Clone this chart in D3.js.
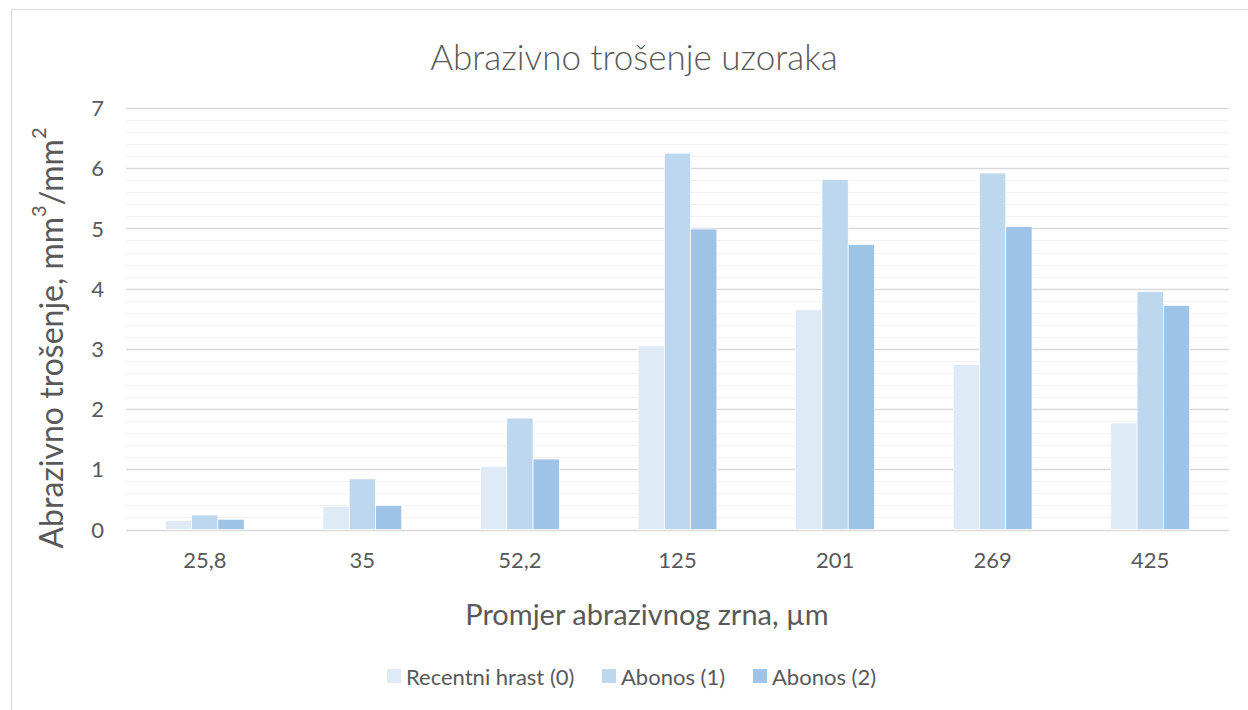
<!DOCTYPE html>
<html>
<head>
<meta charset="utf-8">
<script src="https://cdn.jsdelivr.net/npm/d3@7"></script>
<style>
	body { margin: 0; background: #fff; }
	svg text { font-family: Lato, "Open Sans", sans-serif; fill: #595959; }
</style>
</head>
<body>
<div id="chart"></div>
<script>
const categories = ["25,8", "35", "52,2", "125", "201", "269", "425"];
const seriesNames = ["Recentni hrast (0)", "Abonos (1)", "Abonos (2)"];
const recentniHrast = [0.15, 0.38, 1.05, 3.05, 3.65, 2.74, 1.77];
const abonos1 = [0.24, 0.84, 1.85, 6.25, 5.81, 5.92, 3.95];
const abonos2 = [0.17, 0.40, 1.17, 4.99, 4.73, 5.03, 3.72];
const yTicks = [0, 1, 2, 3, 4, 5, 6, 7];

const width = 1248;
const height = 710;
const colors = ["#deeaf6", "#bdd7ee", "#9dc3e6"];
const series = [recentniHrast, abonos1, abonos2];

let svg = d3.select('#chart').append('svg')
	.attr('width', width)
	.attr('height', height);

// chart area border (cropped on the right and bottom)
svg.append('rect')
	.attr('x', 11.5)
	.attr('y', 9.5)
	.attr('width', width + 20)
	.attr('height', height + 20)
	.attr('fill', '#fff')
	.attr('stroke', '#d9d9d9')
	.attr('stroke-width', 1);

let plot = { left: 126, right: 1229, top: 108, bottom: 529.5 };

let x = d3.scaleBand()
	.domain(categories)
	.range([plot.left, plot.right])
	.paddingInner(0.5)
	.paddingOuter(0.25);

let xs = d3.scaleBand()
	.domain(d3.range(series.length))
	.range([0, x.bandwidth()]);

let y = d3.scaleLinear()
	.domain([0, 7])
	.range([plot.bottom, plot.top]);

// minor gridlines
svg.append('g')
	.selectAll('line')
	.data(d3.range(0, 35).map(i => i / 5).filter(v => v % 1 !== 0))
	.enter()
	.append('line')
	.attr('x1', plot.left)
	.attr('x2', plot.right)
	.attr('y1', d => Math.round(y(d)) + 0.5)
	.attr('y2', d => Math.round(y(d)) + 0.5)
	.attr('stroke', '#f2f2f2')
	.attr('stroke-width', 1.2);

// major gridlines
svg.append('g')
	.selectAll('line')
	.data(yTicks)
	.enter()
	.append('line')
	.attr('x1', plot.left)
	.attr('x2', plot.right)
	.attr('y1', d => Math.round(y(d)) + 0.5)
	.attr('y2', d => Math.round(y(d)) + 0.5)
	.attr('stroke', '#d9d9d9')
	.attr('stroke-width', 1.3);

// bars
let groups = svg.append('g')
	.selectAll('g')
	.data(categories)
	.enter()
	.append('g')
	.attr('transform', d => 'translate(' + x(d) + ',0)');

groups.selectAll('rect')
	.data((d, i) => series.map((s, k) => ({ k: k, v: s[i] })))
	.enter()
	.append('rect')
	.attr('x', d => xs(d.k))
	.attr('width', xs.bandwidth())
	.attr('y', d => y(d.v))
	.attr('height', d => y(0) - y(d.v))
	.attr('fill', d => colors[d.k])
	.attr('stroke', '#fff')
	.attr('stroke-width', 0.7);

// y axis labels
let yAxis = d3.axisLeft(y).tickValues(yTicks).tickFormat(d3.format('d')).tickSize(0).tickPadding(0);
let yg = svg.append('g')
	.attr('transform', 'translate(104,0)')
	.call(yAxis);
yg.select('.domain').remove();
yg.selectAll('text')
	.style('font-size', '22px')
	.attr('fill', '#595959')
	.attr('dy', '0.35em');

// x axis labels
let xAxis = d3.axisBottom(x).tickSize(0).tickPadding(0);
let xg = svg.append('g')
	.attr('transform', 'translate(0,560)')
	.call(xAxis);
xg.select('.domain').remove();
xg.selectAll('text')
	.style('font-size', '22px')
	.attr('fill', '#595959')
	.attr('dy', '0.35em');

// title
svg.append('text')
	.attr('x', 634)
	.attr('y', 56)
	.attr('text-anchor', 'middle')
	.attr('dominant-baseline', 'central')
	.style('font-size', '35px')
	.style('font-weight', 300)
	.text('Abrazivno trošenje uzoraka');

// x axis title
svg.append('text')
	.attr('x', 647)
	.attr('y', 613)
	.attr('text-anchor', 'middle')
	.attr('dominant-baseline', 'central')
	.style('font-size', '29px')
	.text('Promjer abrazivnog zrna, µm');

// y axis title
let yTitle = svg.append('text')
	.attr('transform', 'translate(50,338) rotate(-90)')
	.attr('text-anchor', 'middle')
	.attr('dominant-baseline', 'central')
	.style('font-size', '32px');
yTitle.append('tspan').text('Abrazivno trošenje, mm');
yTitle.append('tspan').attr('baseline-shift', 'super').style('font-size', '20px').text('3');
yTitle.append('tspan').text('/mm');
yTitle.append('tspan').attr('baseline-shift', 'super').style('font-size', '20px').text('2');

// legend
let legendX = [387, 602, 753];
let legend = svg.append('g')
	.selectAll('g')
	.data(seriesNames)
	.enter()
	.append('g')
	.attr('transform', (d, i) => 'translate(' + legendX[i] + ',669)');

legend.append('rect')
	.attr('width', 14)
	.attr('height', 14)
	.attr('fill', (d, i) => colors[i]);

legend.append('text')
	.attr('x', 19)
	.attr('y', 7)
	.attr('dominant-baseline', 'central')
	.style('font-size', '22px')
	.text(d => d);
</script>
</body>
</html>
